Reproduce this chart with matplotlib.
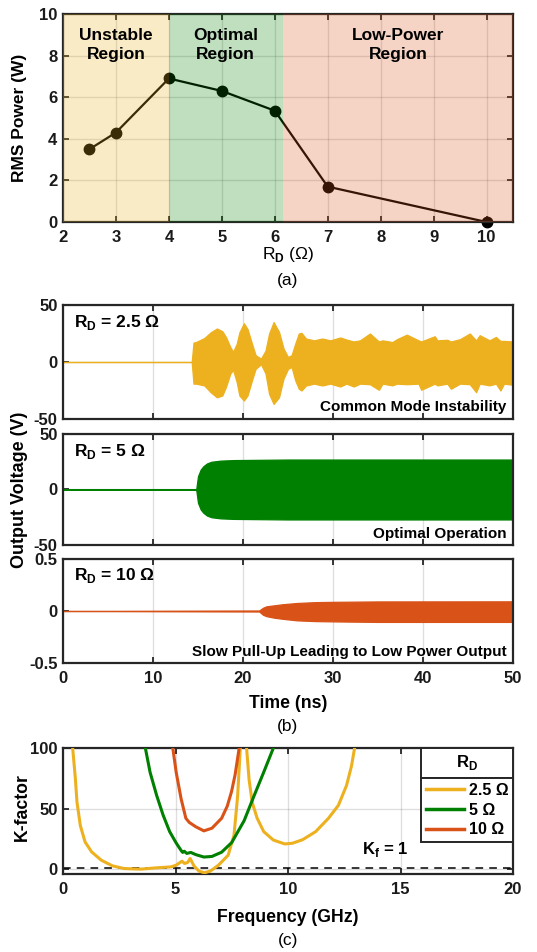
import numpy as np
import matplotlib
matplotlib.use("Agg")
import matplotlib.pyplot as plt
from matplotlib.lines import Line2D
from matplotlib.patches import Rectangle

plt.rcParams['font.family'] = ['Liberation Sans', 'DejaVu Sans']
plt.rcParams['font.weight'] = 'bold'
plt.rcParams['axes.labelweight'] = 'bold'
plt.rcParams['mathtext.fontset'] = 'custom'
plt.rcParams['mathtext.rm'] = 'Liberation Sans:bold'
plt.rcParams['mathtext.sf'] = 'Liberation Sans'

YELLOW = '#EDB120'
GREEN = '#008000'
ORANGE = '#D95319'
DARK = '#262626'

# (a) RMS output power against drain resistance
rd_vals = [2.5, 3, 4, 5, 6, 7, 10]
rms_power = [3.5, 4.3, 6.9, 6.3, 5.35, 1.7, 0.0]
region_edges = [2, 4, 6.15, 10.5]
region_names = ["Unstable\nRegion", "Optimal\nRegion", "Low-Power\nRegion"]
region_colors = [YELLOW, GREEN, ORANGE]

# (b) output voltage envelopes (upper / lower) for each R_D
t_25 = [0, 14.3, 14.5, 14.8, 15.7, 16.4, 17.1, 17.7, 18.1, 18.6, 18.9, 19.3, 19.6,
        20.1, 20.5, 21.0, 21.4, 22.0, 22.5, 22.9, 23.4, 24.0, 24.5, 25.0, 25.4,
        25.8, 26.2, 26.5, 27.0, 27.9, 28.8, 29.7, 30.8, 31.5, 32.3, 33.0, 34.1,
        35.1, 35.5, 36.6, 37.1, 38.2, 39.5, 39.8, 41.3, 41.6, 42.7, 43.1, 44.1,
        45.2, 45.9, 46.3, 47.4, 48.1, 48.6, 49.0, 50]
v25_hi = [0, 0, 17, 17.6, 21, 26, 29.4, 27, 22, 13, 9, 16, 26,
          34, 29, 16, 6, 3, 10, 25, 35, 26.5, 12, 4.4, 6,
          16, 25, 25.6, 20.6, 19, 20.6, 19, 21.5, 19.7, 18, 19, 25,
          18, 19, 17.5, 20, 24, 19, 18, 22.6, 19, 19.5, 18, 20,
          25, 19, 23.5, 19, 22, 18.5, 18.5, 18]
v25_lo = [0, 0, -19, -19, -20.6, -26.5, -31, -29.4, -22, -10, -7, -17.6, -29.4,
          -33.8, -29.4, -16, -6, -2, -10, -28, -36.8, -31, -14.7, -6, -4.4,
          -16, -23.5, -25, -20.6, -19, -20.6, -19, -21.5, -19, -21.5, -19, -19.5,
          -24.4, -19, -20.5, -19, -19.5, -19, -24.4, -19, -20.5, -19, -23.5, -19,
          -19.5, -26.5, -19, -20.5, -19, -25, -19, -20]

t_5 = [0, 14.8, 15.0, 15.3, 15.6, 16.0, 16.5, 17.5, 19.0, 25, 50]
v5_hi = [0, 0, 12, 18, 21, 23.5, 25, 26, 26.5, 27, 27]
v5_lo = [0, 0, -12, -18, -21, -23.5, -25, -26, -26.5, -27, -27]

t_10 = [0, 14.0, 21.8, 22.2, 22.6, 23.5, 24.4, 26, 28, 30, 35, 50]
v10_hi = [0, 0.003, 0.005, 0.03, 0.045, 0.055, 0.065, 0.077, 0.085, 0.088, 0.092, 0.093]
v10_lo = [0, -0.003, -0.005, -0.035, -0.05, -0.065, -0.075, -0.09, -0.097, -0.1, -0.105, -0.105]

# (c) stability K-factor against frequency
f_25a = [0.43, 0.55, 0.62, 0.77, 0.98, 1.27, 1.7, 2.2, 2.72, 3.44, 4.16, 4.81, 5.03,
         5.29, 5.4, 5.54, 5.65, 5.82, 6.04, 6.29, 6.55, 6.91, 7.34, 7.6, 7.76, 7.88]
k_25a = [100, 74.7, 55.5, 36, 22.5, 14.3, 7.4, 2.7, 0.5, 0, 1.1, 1.9, 3.3,
         6.6, 4.7, 5.5, 8.8, 2.7, -1.6, -3.0, -1.6, 3.3, 11.5, 28, 60, 100]
f_25b = [8.16, 8.27, 8.41, 8.63, 8.92, 9.35, 9.86, 10.2, 10.65, 11.23, 11.8, 12.24, 12.6, 12.82, 12.96]
k_25b = [100, 74, 55, 42, 31, 24, 20.8, 21.4, 24.3, 31, 42, 52.7, 69, 85, 100]
f_5 = [3.66, 3.87, 4.16, 4.45, 4.74, 5.03, 5.25, 5.32, 5.39, 5.5, 5.68, 5.9, 6.26,
       6.62, 7.05, 7.5, 8.05, 8.48, 8.92, 9.35]
k_5 = [100, 80, 61, 44.6, 31, 21.6, 15.4, 13.8, 14.8, 13, 13.8, 12, 10,
       10.5, 14, 22, 40, 60, 80, 100]
f_10 = [4.88, 5.03, 5.25, 5.46, 5.61, 5.9, 6.26, 6.62, 7.05, 7.3, 7.49, 7.65, 7.83]
k_10 = [100, 80, 58, 42, 38.6, 35, 31.6, 33.8, 42, 52, 64, 78, 100]
legend_labels = ['2.5 Ω', '5 Ω', '10 Ω']

W, H = 537, 952
fig = plt.figure(figsize=(W / 100, H / 100), dpi=100)


def px_axes(left, top, right, bottom):
    return fig.add_axes([left / W, 1 - bottom / H, (right - left) / W, (bottom - top) / H])


def ftext(x, y, s, **kw):
    fig.text(x / W, 1 - y / H, s, ha='center', va='center', **kw)


def matlab_style(ax):
    for s in ax.spines.values():
        s.set_linewidth(1.6)
        s.set_color(DARK)
    ax.tick_params(direction='in', top=True, right=True, length=4, width=1.3,
                   labelsize=12, color=DARK, labelcolor='#1a1a1a', pad=4)
    ax.tick_params(axis='x', pad=6)
    ax.grid(True, color=DARK, alpha=0.15, lw=1.0)
    ax.set_axisbelow(True)


# ---- (a) ----
ax_a = px_axes(63, 14, 513, 222)
matlab_style(ax_a)
ax_a.plot(rd_vals, rms_power, color='black', lw=1.6, marker='o', ms=7.5, zorder=2, clip_on=False)
for i in range(len(region_names)):
    x0, x1 = region_edges[i], region_edges[i + 1]
    ax_a.axvspan(x0, x1, color=region_colors[i], alpha=0.25, lw=0, zorder=3)
    ax_a.text((x0 + x1) / 2, 8.5, region_names[i], ha='center', va='center',
              fontsize=12.5, linespacing=1.3, zorder=4)
ax_a.set_xlim(2, 10.5)
ax_a.set_ylim(0, 10)
ax_a.set_xticks(range(2, 11))
ax_a.set_yticks(range(0, 11, 2))
ftext(20, 118, 'RMS Power (W)', rotation=90, fontsize=12.5)
ftext(288, 255, r'R$_\mathsf{D}$ (Ω)', fontsize=12.5, fontweight='normal')
ftext(288, 280, '(a)', fontsize=12.5, fontweight='normal')

# ---- (b) ----
ax_b1 = px_axes(63, 305, 513, 419)
ax_b2 = px_axes(63, 434, 513, 545)
ax_b3 = px_axes(63, 559, 513, 663)
b_panels = [
    (ax_b1, t_25, v25_lo, v25_hi, YELLOW, 50, r'R$_\mathrm{D}$ = 2.5 Ω', 'Common Mode Instability'),
    (ax_b2, t_5, v5_lo, v5_hi, GREEN, 50, r'R$_\mathrm{D}$ = 5 Ω', 'Optimal Operation'),
    (ax_b3, t_10, v10_lo, v10_hi, ORANGE, 0.5, r'R$_\mathrm{D}$ = 10 Ω',
     'Slow Pull-Up Leading to Low Power Output'),
]
for ax, t, lo, hi, c, lim, tag, note in b_panels:
    matlab_style(ax)
    ax.fill_between(t, lo, hi, color=c, lw=0.9, zorder=2)
    ax.set_xlim(0, 50)
    ax.set_ylim(-lim, lim)
    ax.set_xticks(range(0, 51, 10))
    ax.set_yticks([-lim, 0, lim])
    ax.set_yticklabels([f'{-lim:g}', '0', f'{lim:g}'])
    ax.text(0.025, 0.93, tag, transform=ax.transAxes, ha='left', va='top', fontsize=12.5)
    ax.text(0.985, 0.04, note, transform=ax.transAxes, ha='right', va='bottom', fontsize=11)
    if ax is not ax_b3:
        ax.tick_params(labelbottom=False)
ftext(20, 490, 'Output Voltage (V)', rotation=90, fontsize=13)
ftext(288, 703, 'Time (ns)', fontsize=12.7)
ftext(288, 726, '(b)', fontsize=12.5, fontweight='normal')

# ---- (c) ----
ax_c = px_axes(63, 748, 513, 874)
matlab_style(ax_c)
ax_c.axhline(1, color='black', ls=(0, (5, 4)), lw=1.1, zorder=2)
ax_c.plot(f_25a, k_25a, color=YELLOW, lw=2.2, zorder=3, solid_joinstyle='round')
ax_c.plot(f_25b, k_25b, color=YELLOW, lw=2.2, zorder=3, solid_joinstyle='round')
ax_c.plot(f_5, k_5, color=GREEN, lw=2.2, zorder=3, solid_joinstyle='round')
ax_c.plot(f_10, k_10, color=ORANGE, lw=2.2, zorder=3, solid_joinstyle='round')
ax_c.text(13.3, 16, r'K$_\mathrm{f}$ = 1', ha='left', va='center', fontsize=12)
ax_c.set_xlim(0, 20)
ax_c.set_ylim(-4, 100)
ax_c.set_xticks(range(0, 21, 5))
ax_c.set_yticks([0, 50, 100])
ftext(22, 807, 'K-factor', rotation=90, fontsize=12.7)
ftext(288, 918, 'Frequency (GHz)', fontsize=12.7)
ftext(288, 941, '(c)', fontsize=12.5, fontweight='normal')

# legend entries box, with a separate title cell stacked above it
title_h = 30 / 126
handles = [Line2D([], [], color=c, lw=2.5) for c in (YELLOW, GREEN, ORANGE)]
leg = ax_c.legend(handles, legend_labels, loc='upper right', bbox_to_anchor=(1, 1 - title_h),
                  borderaxespad=0, fancybox=False, framealpha=1, edgecolor=DARK,
                  fontsize=11.5, handlelength=2.35, handletextpad=0.3,
                  labelspacing=0.3, borderpad=0.3)
leg.get_frame().set_linewidth(1.4)
leg.set_zorder(5)

fig.canvas.draw()
inv = ax_c.transAxes.inverted()
lb = leg.get_window_extent()
(lx0, _), (lx1, _) = inv.transform([(lb.x0, lb.y1), (lb.x1, lb.y1)])
ax_c.add_patch(Rectangle((lx0, 1 - title_h), lx1 - lx0, title_h, transform=ax_c.transAxes,
                         facecolor='white', edgecolor=DARK, lw=1.4, zorder=5, clip_on=False))
ax_c.text((lx0 + lx1) / 2, 1 - title_h / 2, r'R$_\mathrm{D}$', transform=ax_c.transAxes,
          ha='center', va='center', fontsize=12, zorder=6)

fig.savefig('out.png', dpi=100)
